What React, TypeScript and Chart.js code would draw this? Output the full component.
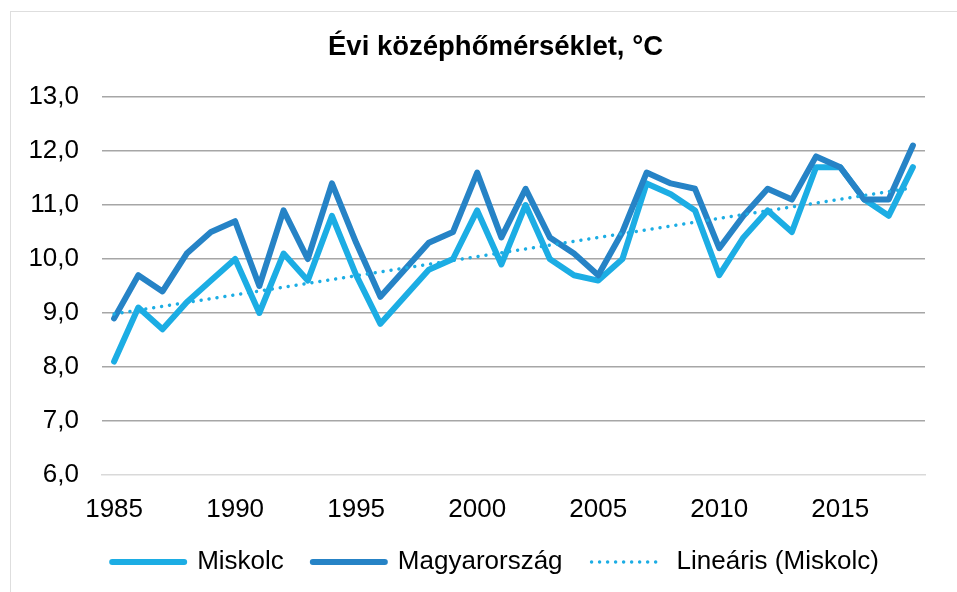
import React, { useEffect, useRef } from 'react';
import { Chart, registerables } from 'chart.js';

Chart.register(...registerables);

const years = [
  '1985', '1986', '1987', '1988', '1989', '1990', '1991', '1992', '1993', '1994',
  '1995', '1996', '1997', '1998', '1999', '2000', '2001', '2002', '2003', '2004',
  '2005', '2006', '2007', '2008', '2009', '2010', '2011', '2012', '2013', '2014',
  '2015', '2016', '2017', '2018',
];

const miskolc = [
  8.1, 9.1, 8.7, 9.2, 9.6, 10.0, 9.0, 10.1, 9.6, 10.8,
  9.7, 8.8, 9.3, 9.8, 10.0, 10.9, 9.9, 11.0, 10.0, 9.7,
  9.6, 10.0, 11.4, 11.2, 10.9, 9.7, 10.4, 10.9, 10.5, 11.7,
  11.7, 11.1, 10.8, 11.7,
];

const magyarorszag = [
  8.9, 9.7, 9.4, 10.1, 10.5, 10.7, 9.5, 10.9, 10.0, 11.4,
  10.3, 9.3, 9.8, 10.3, 10.5, 11.6, 10.4, 11.3, 10.4, 10.1,
  9.7, 10.5, 11.6, 11.4, 11.3, 10.2, 10.8, 11.3, 11.1, 11.9,
  11.7, 11.1, 11.1, 12.1,
];

// Linear trend line (Miskolc) endpoints
const trendYears = ['1985', '2018'];
const trendValues = [8.98, 11.32];

const seriesLabels = ['Miskolc', 'Magyarország', 'Lineáris (Miskolc)'];
const titleText = 'Évi középhőmérséklet, °C';

const FONT = '"Liberation Sans", Arial, sans-serif';
const C_MISKOLC = '#1CADE4';
const C_HU = '#2683C6';

// The Excel chart frame is wider than the visible window; the canvas is too,
// so that title and legend are centred as in the original.
const CANVAS_W = 991;
const CANVAS_H = 592;

export default function App() {
  const canvasRef = useRef<HTMLCanvasElement | null>(null);

  useEffect(() => {
    const canvas = canvasRef.current;
    if (!canvas) return;
    const chart = new Chart(canvas, {
      type: 'line',
      data: {
        labels: years,
        datasets: [
          {
            label: seriesLabels[0],
            data: miskolc,
            borderColor: C_MISKOLC,
            backgroundColor: C_MISKOLC,
            borderWidth: 6,
            pointRadius: 0,
            pointHoverRadius: 0,
            tension: 0,
            borderCapStyle: 'round',
            borderJoinStyle: 'round',
            order: 2,
          },
          {
            label: seriesLabels[1],
            data: magyarorszag,
            borderColor: C_HU,
            backgroundColor: C_HU,
            borderWidth: 6,
            pointRadius: 0,
            pointHoverRadius: 0,
            tension: 0,
            borderCapStyle: 'round',
            borderJoinStyle: 'round',
            order: 1,
          },
          {
            label: seriesLabels[2],
            data: trendYears.map((x, i) => ({ x, y: trendValues[i] })),
            borderColor: C_MISKOLC,
            backgroundColor: C_MISKOLC,
            borderWidth: 3.5,
            borderDash: [0.01, 8],
            borderCapStyle: 'round',
            pointRadius: 0,
            pointHoverRadius: 0,
            tension: 0,
            order: 0,
          },
        ],
      },
      options: {
        animation: false,
        responsive: false,
        maintainAspectRatio: false,
        devicePixelRatio: 1,
        layout: { padding: { left: 0, right: 0, top: 0, bottom: 7 } },
        scales: {
          x: {
            type: 'category',
            offset: true,
            grid: { display: false, drawTicks: false },
            border: { display: true, color: '#d9d9d9', width: 1.5 },
            ticks: {
              autoSkip: false,
              maxRotation: 0,
              minRotation: 0,
              padding: 19,
              color: '#000',
              font: { family: FONT, size: 26 },
              callback: function (this: any, value: any) {
                const l = this.getLabelForValue(value);
                return Number(l) % 5 === 0 ? l : '';
              },
            },
            afterFit: (s: any) => {
              s.height = 45;
            },
          },
          y: {
            min: 6,
            max: 13,
            grid: {
              drawTicks: false,
              lineWidth: 1.5,
              color: (ctx: any) =>
                ctx.tick && ctx.tick.value === 6 ? 'rgba(0,0,0,0)' : '#a6a6a6',
            },
            border: { display: false },
            ticks: {
              stepSize: 1,
              padding: 23,
              color: '#000',
              font: { family: FONT, size: 26 },
              callback: (v: any) => Number(v).toFixed(1).replace('.', ','),
            },
            afterFit: (s: any) => {
              s.width = 102;
            },
          },
          yRightSpace: {
            type: 'linear',
            position: 'right',
            display: true,
            grid: { display: false, drawTicks: false },
            border: { display: false },
            ticks: { display: false },
            afterFit: (s: any) => {
              s.width = CANVAS_W - 925;
            },
          },
        },
        plugins: {
          title: {
            display: true,
            text: titleText,
            color: '#000',
            font: { family: FONT, size: 27.5, weight: 'bold' },
            padding: { top: 31, bottom: 33 },
          },
          legend: {
            display: true,
            position: 'bottom',
            labels: {
              usePointStyle: true,
              pointStyle: 'line',
              pointStyleWidth: 72,
              padding: 29,
              color: '#000',
              font: { family: FONT, size: 26 },
              sort: (a: any, b: any) => a.datasetIndex - b.datasetIndex,
              generateLabels: (c: any) => {
                const items = Chart.defaults.plugins.legend.labels.generateLabels(c);
                return items.map((it: any) => {
                  const ds: any = c.data.datasets[it.datasetIndex];
                  return {
                    ...it,
                    lineWidth: ds.borderWidth,
                    lineDash: ds.borderDash || [],
                    lineCap: 'round',
                    strokeStyle: ds.borderColor,
                    fillStyle: ds.borderColor,
                  };
                });
              },
            },
          },
          tooltip: { enabled: false },
        },
      } as any,
    });
    return () => {
      chart.destroy();
    };
  }, []);

  return (
    <div style={{ position: 'fixed', left: 0, top: 0, width: 957, height: 592, background: '#fff', overflow: 'hidden' }}>
      <div
        style={{
          position: 'absolute',
          left: 10,
          top: 11,
          width: 970,
          height: 600,
          border: '1px solid #dedede',
        }}
      />
      <canvas
        ref={canvasRef}
        width={CANVAS_W}
        height={CANVAS_H}
        style={{ position: 'absolute', left: 0, top: 0, width: CANVAS_W, height: CANVAS_H }}
      />
    </div>
  );
}
